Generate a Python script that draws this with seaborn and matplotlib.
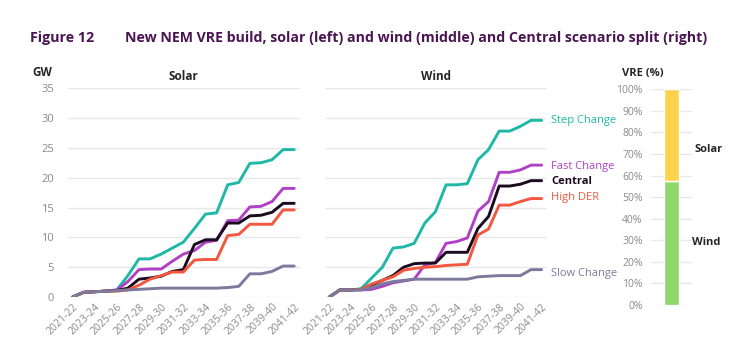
import numpy as np
import pandas as pd
import seaborn as sns
from matplotlib import pyplot as plt

years = ["2021-22", "2022-23", "2023-24", "2024-25", "2025-26", "2026-27", "2027-28",
         "2028-29", "2029-30", "2030-31", "2031-32", "2032-33", "2033-34", "2034-35",
         "2035-36", "2036-37", "2037-38", "2038-39", "2039-40", "2040-41", "2041-42"]
scenarios = ["Step Change", "Fast Change", "Central", "High DER", "Slow Change"]

# solar build (GW)
solar_step = [0, 0.8, 0.9, 1.0, 1.2, 3.6, 6.4, 6.4, 7.2, 8.2, 9.2, 11.5, 13.9, 14.1, 18.8, 19.2, 22.4, 22.5, 23.0, 24.7, 24.7]
solar_fast = [0, 0.8, 0.9, 1.0, 1.2, 2.6, 4.6, 4.7, 4.7, 6.0, 7.2, 7.8, 9.2, 9.5, 12.8, 12.9, 15.1, 15.2, 16.0, 18.2, 18.2]
solar_central = [0, 0.8, 0.9, 1.0, 1.1, 1.5, 3.0, 3.2, 3.5, 4.3, 4.6, 8.8, 9.6, 9.6, 12.4, 12.4, 13.6, 13.7, 14.2, 15.7, 15.7]
solar_highder = [0, 0.8, 0.9, 1.0, 1.0, 1.2, 2.0, 3.0, 3.6, 4.2, 4.2, 6.2, 6.3, 6.3, 10.3, 10.5, 12.2, 12.2, 12.2, 14.6, 14.6]
solar_slow = [0, 0.8, 0.9, 1.0, 1.1, 1.2, 1.3, 1.4, 1.5, 1.5, 1.5, 1.5, 1.5, 1.5, 1.6, 1.8, 3.9, 3.9, 4.3, 5.2, 5.2]

# wind build (GW)
wind_step = [0, 1.2, 1.2, 1.4, 3.2, 5.0, 8.2, 8.4, 9.0, 12.4, 14.3, 18.8, 18.8, 19.0, 23.0, 24.7, 27.8, 27.8, 28.6, 29.6, 29.6]
wind_fast = [0, 1.2, 1.2, 1.2, 1.3, 1.8, 2.4, 2.7, 3.0, 5.4, 5.8, 9.0, 9.3, 9.9, 14.4, 16.0, 20.9, 20.9, 21.3, 22.1, 22.1]
wind_central = [0, 1.2, 1.2, 1.3, 2.0, 2.8, 3.6, 5.0, 5.6, 5.7, 5.7, 7.5, 7.5, 7.5, 11.5, 13.5, 18.6, 18.6, 18.9, 19.5, 19.5]
wind_highder = [0, 1.2, 1.2, 1.3, 2.2, 2.8, 3.4, 4.5, 4.8, 5.0, 5.1, 5.3, 5.4, 5.5, 10.4, 11.4, 15.4, 15.4, 16.0, 16.5, 16.5]
wind_slow = [0, 1.2, 1.2, 1.2, 1.6, 2.2, 2.6, 2.8, 3.0, 3.0, 3.0, 3.0, 3.0, 3.0, 3.4, 3.5, 3.6, 3.6, 3.6, 4.6, 4.6]

# central scenario VRE split (%)
split_labels = ["Wind", "Solar"]
split_values = [57.5, 42.5]

colors = {"Step Change": "#1fb8a6", "Fast Change": "#b041c6", "Central": "#1c0b20",
          "High DER": "#f2573f", "Slow Change": "#7c7a9c"}
split_colors = ["#8ed86c", "#fed24c"]

def long_df(series):
    rows = []
    for name, vals in zip(scenarios, series):
        for i, v in enumerate(vals):
            rows.append({"idx": i, "GW": v, "Scenario": name})
    return pd.DataFrame(rows)

solar = long_df([solar_step, solar_fast, solar_central, solar_highder, solar_slow])
wind = long_df([wind_step, wind_fast, wind_central, wind_highder, wind_slow])

sns.set_style("white")
plt.rcParams['font.family'] = ['Open Sans', 'DejaVu Sans']
grey = "#8a8a8a"
grid = "#e8e8e8"

fig = plt.figure(figsize=(7.5, 3.61), dpi=100)
ax1 = fig.add_axes([0.0907, 0.177, 0.309, 0.579])
ax2 = fig.add_axes([0.4333, 0.177, 0.296, 0.579])
ax3 = fig.add_axes([0.868, 0.155, 0.0547, 0.598])

for ax, df in [(ax1, solar), (ax2, wind)]:
    sns.lineplot(data=df, x="idx", y="GW", hue="Scenario", hue_order=scenarios,
                 palette=colors, linewidth=2.1, ax=ax, legend=False)
    ax.set_ylim(0, 35)
    ax.set_xlim(-0.4, 20.5)
    ax.set_yticks(range(0, 36, 5))
    ax.set_xticks(range(0, 21, 2))
    ax.set_xticklabels(years[::2], rotation=45, ha="right", rotation_mode="anchor",
                       fontsize=7.5, color=grey)
    ax.grid(axis="y", color=grid, linewidth=1)
    ax.set_axisbelow(True)
    ax.set_xlabel("")
    ax.set_ylabel("")
    ax.tick_params(length=0, pad=3)
    for s in ax.spines.values():
        s.set_visible(False)

ax1.tick_params(axis="y", labelsize=8, labelcolor=grey, pad=10)
ax2.set_yticklabels([])
ax1.set_title("Solar", fontsize=8.5, fontweight="bold", pad=6)
ax2.set_title("Wind", fontsize=8.5, fontweight="bold", pad=6)
fig.text(0.043, 0.79, "GW", fontsize=8.5, fontweight="bold", ha="left")

# end labels on the wind panel
label_y = {"Step Change": wind_step[-1], "Fast Change": wind_fast[-1] - 0.3,
           "Central": wind_central[-1] - 0.2, "High DER": wind_highder[-1] + 0.1,
           "Slow Change": wind_slow[-1] - 0.6}
for name in scenarios:
    ax2.text(20.9, label_y[name], name, color=colors[name], fontsize=8,
             fontweight="bold" if name == "Central" else "normal", va="center")

# stacked split bar
sns.barplot(x=[0], y=[split_values[0]], color=split_colors[0], saturation=1,
            width=0.73, ax=ax3)
ax3.bar([0], [split_values[1]], bottom=[split_values[0]], color=split_colors[1], width=0.73)
ax3.set_ylim(0, 100)
ax3.set_xlim(-1, 1)
ax3.set_yticks(range(0, 101, 10))
ax3.set_yticklabels([f"{v}%" for v in range(0, 101, 10)], fontsize=7.5, color=grey)
ax3.set_xticks([])
ax3.grid(axis="y", color=grid, linewidth=1)
ax3.set_axisbelow(True)
ax3.tick_params(length=0, pad=6)
for s in ax3.spines.values():
    s.set_visible(False)
ax3.text(1.1, 72, split_labels[1], fontsize=8, fontweight="bold", va="center")
ax3.text(1.0, 29, split_labels[0], fontsize=8, fontweight="bold", va="center")
fig.text(0.829, 0.79, "VRE (%)", fontsize=8, fontweight="bold", ha="left")

title_color = "#4a1552"
fig.text(0.04, 0.885, "Figure 12", fontsize=10.3, fontweight="bold", color=title_color)
fig.text(0.167, 0.885, "New NEM VRE build, solar (left) and wind (middle) and Central scenario split (right)",
         fontsize=10.2, fontweight="bold", color=title_color)

fig.savefig("out.png", dpi=100)
